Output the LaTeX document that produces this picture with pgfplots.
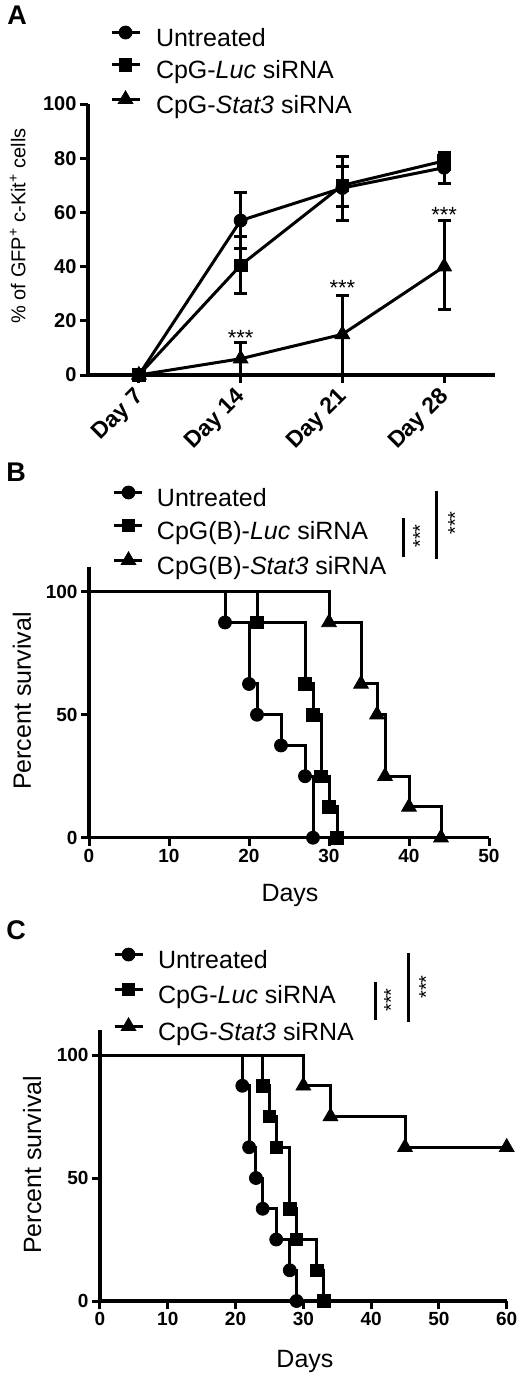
\documentclass[border=0pt]{standalone}
\usepackage{fontspec}
\setmainfont{Liberation Sans}
\usepackage{pgfplots}
\usepackage{pgfplotstable}
\pgfplotsset{compat=1.18}

\pgfplotstableread{
x y ep em
0 0 0 0
1 57 10.5 10.5
2 69 11.5 12
3 76.5 5.5 6
}\untreatedA
\pgfplotstableread{
x y ep em
0 0 0 0
1 40.5 10.5 10.5
2 70 7 8
3 79 3 3
}\lucA
\pgfplotstableread{
x y ep em
0 0 0 0
1 6 6 6
2 15 14.5 15
3 40 17 16
}\statA

\pgfplotsset{
  common/.style={
    scale only axis, clip=false,
    axis x line=bottom, axis y line=left,
    axis line style={-, line width=3.2pt},
    tick align=outside, major tick length=8pt,
    tick style={line width=3pt, black},
    /pgf/number format/assume math mode=true,
    legend cell align=left,
    legend image code/.code={\draw[mark indices={2}] plot coordinates {(0pt,8pt) (14pt,8pt) (28pt,8pt)};},
    label style={font=\fontsize{25}{25}\selectfont},
  },
  leg/.style 2 args={
    legend style={draw=none, fill=none, inner sep=0pt, outer sep=0pt,
      font=\fontsize{25}{25}\selectfont,
      nodes={inner sep=0pt, text height=17pt, text depth=5pt},
      column sep=#2, row sep=#1},
  },
  circ/.style={black, line width=3pt, mark=*, mark size=6.5pt, mark options={solid, line width=0.8pt, fill=black}},
  sq/.style={black, line width=3pt, mark=square*, mark size=6.3pt, mark options={solid, line width=0.8pt, fill=black}},
  tri/.style={black, line width=3pt, mark=triangle*, mark size=8.5pt, mark options={solid, line width=0.8pt, fill=black}},
  eb/.style={error bars/.cd, y dir=both, y explicit,
    error bar style={line width=3pt, black},
    error mark options={rotate=90, mark size=6.5pt, line width=3pt, black}},
}

\begin{document}
\begin{tikzpicture}
\path[use as bounding box] (0pt,0pt) rectangle (520pt,-1378pt);

% Panel labels
\node[font=\bfseries\fontsize{27}{27}\selectfont] at (17pt,-15pt) {A};
\node[font=\bfseries\fontsize{27}{27}\selectfont] at (16pt,-472pt) {B};
\node[font=\bfseries\fontsize{27}{27}\selectfont] at (16pt,-930pt) {C};

% ---------------- Panel A ----------------
\begin{axis}[common, leg={7pt}{15pt},
  at={(88pt,-375pt)}, anchor=south west,
  width=407pt, height=271pt,
  xmin=-0.5, xmax=3.5, ymin=0, ymax=100,
  xtick={0,1,2,3}, xticklabels={Day 7,Day 14,Day 21,Day 28},
  ytick={0,20,40,60,80,100},
  xticklabel style={font=\bfseries\fontsize{23}{23}\selectfont, yshift=-8pt, xshift=4pt, rotate=45, anchor=east},
  yticklabel style={font=\bfseries\fontsize{20}{20}\selectfont},
  ylabel={\% of GFP\textsuperscript{+} c-Kit\textsuperscript{+} cells},
  ylabel style={font=\fontsize{20}{20}\selectfont, at={(axis description cs:-0.173,0.55)}, anchor=center},
  legend style={at={(axis description cs:0.0541,1.2878)}, anchor=north west},
]
\addplot[circ, eb] table[x=x, y=y, y error plus=ep, y error minus=em] {\untreatedA};
\addlegendentry{Untreated}
\addplot[sq, eb] table[x=x, y=y, y error plus=ep, y error minus=em] {\lucA};
\addlegendentry{CpG-\textit{Luc} siRNA}
\addplot[tri, eb] table[x=x, y=y, y error plus=ep, y error minus=em] {\statA};
\addlegendentry{CpG-\textit{Stat3} siRNA}
\node[font=\fontsize{22}{22}\selectfont, anchor=base] at (axis cs:1,11) {***};
\node[font=\fontsize{22}{22}\selectfont, anchor=base] at (axis cs:2,29.4) {***};
\node[font=\fontsize{22}{22}\selectfont, anchor=base] at (axis cs:3,56.4) {***};
\end{axis}

% ---------------- Panel B ----------------
\begin{axis}[common, leg={7.5pt}{13pt},
  at={(89pt,-837.7pt)}, anchor=south west,
  width=400pt, height=270.6pt,
  xmin=0, xmax=50, ymin=0, ymax=110,
  xtick={0,10,20,30,40,50}, ytick={0,50,100},
  ticklabel style={font=\bfseries\fontsize{19}{19}\selectfont},
  xlabel={Days}, ylabel={Percent survival},
  xlabel style={at={(axis description cs:0.5025,-0.215)}, anchor=center},
  ylabel style={at={(axis description cs:-0.1675,0.505)}, anchor=center},
  legend style={at={(axis description cs:0.06,1.2997)}, anchor=north west},
]
\addplot[circ, const plot, mark indices={2,3,4,5,6,7}] coordinates {(0,100) (17,87.5) (20,62.5) (21,50) (24,37.5) (27,25) (28,0)};
\addlegendentry{Untreated}
\addplot[sq, const plot, mark indices={2,3,4,5,6,7}] coordinates {(0,100) (21,87.5) (27,62.5) (28,50) (29,25) (30,12.5) (31,0)};
\addlegendentry{CpG(B)-\textit{Luc} siRNA}
\addplot[tri, const plot, mark indices={2,3,4,5,6,7}] coordinates {(0,100) (30,87.5) (34,62.5) (36,50) (37,25) (40,12.5) (44,0)};
\addlegendentry{CpG(B)-\textit{Stat3} siRNA}
\end{axis}

% ---------------- Panel C ----------------
\begin{axis}[common, leg={9.5pt}{14pt},
  at={(100pt,-1301pt)}, anchor=south west,
  width=406.7pt, height=270.6pt,
  xmin=0, xmax=60, ymin=0, ymax=110,
  xtick={0,10,20,30,40,50,60}, ytick={0,50,100},
  ticklabel style={font=\bfseries\fontsize{19}{19}\selectfont},
  xlabel={Days}, ylabel={Percent survival},
  xlabel style={at={(axis description cs:0.504,-0.222)}, anchor=center},
  ylabel style={at={(axis description cs:-0.167,0.503)}, anchor=center},
  legend style={at={(axis description cs:0.032,1.3045)}, anchor=north west},
]
\addplot[circ, const plot, mark indices={2,3,4,5,6,7,8}] coordinates {(0,100) (21,87.5) (22,62.5) (23,50) (24,37.5) (26,25) (28,12.5) (29,0)};
\addlegendentry{Untreated}
\addplot[sq, const plot, mark indices={2,3,4,5,6,7,8}] coordinates {(0,100) (24,87.5) (25,75) (26,62.5) (28,37.5) (29,25) (32,12.5) (33,0)};
\addlegendentry{CpG-\textit{Luc} siRNA}
\addplot[tri, const plot, mark indices={2,3,4,5}] coordinates {(0,100) (30,87.5) (34,75) (45,62.5) (60,62.5)};
\addlegendentry{CpG-\textit{Stat3} siRNA}
\end{axis}

% significance bars
\draw[line width=3pt] (403pt,-518pt) -- (403pt,-557pt);
\draw[line width=3pt] (436pt,-491pt) -- (436pt,-559pt);
\node[rotate=90, font=\fontsize{20}{20}\selectfont] at (420pt,-536pt) {***};
\node[rotate=90, font=\fontsize{20}{20}\selectfont] at (455pt,-523pt) {***};
\draw[line width=3pt] (375pt,-982pt) -- (375pt,-1020pt);
\draw[line width=3pt] (408pt,-953pt) -- (408pt,-1022pt);
\node[rotate=90, font=\fontsize{20}{20}\selectfont] at (391pt,-1000pt) {***};
\node[rotate=90, font=\fontsize{20}{20}\selectfont] at (426pt,-987pt) {***};
\end{tikzpicture}
\end{document}
